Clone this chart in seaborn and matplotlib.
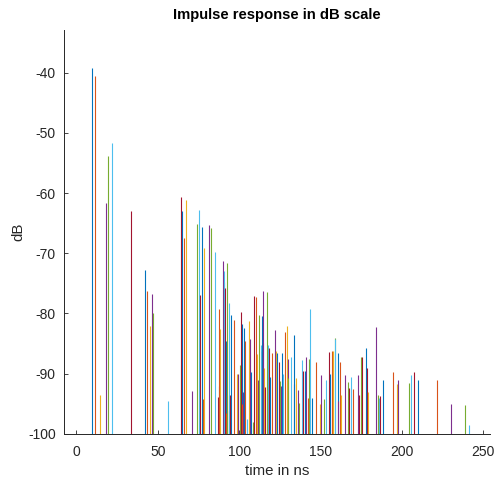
"""Impulse response (dB) as a stem-style plot, MATLAB look-alike."""

import matplotlib

matplotlib.use("Agg")
import matplotlib.pyplot as plt
import seaborn as sns

# arrival times [ns], levels [dB] and colour slot of every path
TIMES_NS = [
    9.5, 11.3, 14.4, 18.4, 19.3, 22.1, 33.8, 42.2, 43.4, 45.1,
    46.3, 47.1, 56.1, 64.3, 64.6, 66.3, 67.6, 71.3, 74.3, 75.4,
    76.2, 77.4, 78.0, 78.4, 81.3, 82.7, 85.0, 86.9, 87.3, 87.5,
    88.3, 89.9, 90.5, 90.9, 91.3, 91.8, 92.1, 92.4, 92.6, 92.8,
    93.6, 94.1, 94.8, 96.7, 98.5, 99.1, 100.6, 101.1, 101.4, 101.6,
    101.9, 102.2, 102.4, 103.0, 103.8, 104.9, 106.1, 106.7, 107.1, 108.2,
    109.3, 110.4, 111.2, 111.6, 112.4, 113.5, 113.9, 114.3, 114.6, 114.9,
    115.3, 116.1, 117.1, 117.8, 118.4, 119.0, 120.4, 121.9, 122.7, 123.1,
    124.3, 125.3, 125.9, 126.5, 126.8, 128.4, 129.2, 129.9, 130.2, 131.7,
    133.7, 133.9, 135.0, 136.0, 136.6, 138.8, 139.4, 140.7, 141.3, 142.1,
    142.9, 143.7, 145.0, 147.4, 149.9, 150.5, 152.3, 153.6, 155.2, 155.8,
    157.1, 157.5, 158.7, 159.1, 160.7, 161.0, 162.0, 162.6, 164.9, 167.1,
    167.3, 168.5, 169.8, 173.2, 173.4, 175.1, 175.7, 178.1, 178.4, 179.4,
    184.3, 185.3, 185.7, 186.7, 188.6, 194.5, 197.2, 197.6, 204.4, 205.4,
    207.2, 209.7, 221.4, 230.3, 238.9, 241.2,
]
LEVELS_DB = [
    -39.2, -40.6, -93.6, -61.6, -53.8, -51.6, -63.0, -72.7, -76.3, -82.0,
    -76.8, -80.0, -94.5, -60.6, -63.0, -67.4, -61.1, -92.8, -65.1, -62.8,
    -77.0, -65.6, -94.2, -69.2, -65.3, -65.8, -69.7, -93.8, -92.0, -79.2,
    -82.6, -71.3, -74.8, -73.0, -75.7, -84.5, -96.5, -93.5, -96.0, -71.6,
    -78.3, -93.5, -80.2, -81.1, -90.0, -90.1, -88.5, -96.5, -79.7, -81.8,
    -95.0, -97.0, -93.0, -82.4, -84.6, -97.5, -81.3, -84.2, -89.7, -98.0,
    -77.1, -77.3, -86.8, -91.1, -80.2, -85.2, -86.2, -80.5, -84.9, -76.2,
    -89.0, -92.3, -76.4, -85.2, -85.7, -90.6, -86.6, -82.8, -86.3, -86.6,
    -88.1, -91.3, -92.1, -86.6, -90.0, -83.0, -82.0, -87.6, -90.7, -87.3,
    -91.7, -83.5, -90.7, -92.7, -94.9, -87.8, -89.5, -89.5, -87.2, -94.0,
    -87.6, -79.2, -94.1, -88.0, -95.1, -90.2, -94.2, -91.1, -86.4, -90.0,
    -86.2, -86.2, -84.1, -84.3, -86.6, -94.5, -88.1, -93.5, -90.3, -91.4,
    -92.4, -90.5, -92.5, -90.2, -93.5, -87.3, -87.2, -85.8, -89.0, -93.0,
    -82.3, -93.5, -94.1, -93.7, -91.1, -89.7, -91.7, -91.0, -91.5, -90.3,
    -89.7, -91.0, -91.1, -95.1, -95.2, -98.6,
]
# one letter per path, ten paths per chunk
SLOTS = "".join([
    "boypgcrboy", "pgcrboypgc", "rboypgcrbo", "ypgcrboypg", "crboypgcrb",
    "oypbocypbg", "roypgcrbop", "yrgcrbopyb", "rgpbcoypgc", "rbypgcrbpo",
    "gcboypgcrb", "oygcbpoypg", "rcoprgrbry", "pgcrboypgc", "rbopgc",
])

MATLAB_ORDER = {
    "b": "#0072BD", "o": "#D95319", "y": "#EDB120", "p": "#7E2F8E",
    "g": "#77AC30", "c": "#4DBEEE", "r": "#A2142F",
}
BASE_DB = -100
X_TICKS = [0, 50, 100, 150, 200, 250]
Y_TICKS = [-100, -90, -80, -70, -60, -50, -40]


def main() -> None:
    sns.set_theme(style="ticks")
    plt.rcParams["font.family"] = ["Liberation Sans", "DejaVu Sans"]
    plt.rcParams["axes.unicode_minus"] = False

    n = min(len(TIMES_NS), len(LEVELS_DB))
    slots = (SLOTS + "b" * n)[:n]
    colors = [MATLAB_ORDER[s] for s in slots]

    fig = plt.figure(figsize=(4.97, 4.88), dpi=100)
    ax = fig.add_axes([0.129, 0.111, 0.857, 0.828])
    ax.vlines(TIMES_NS[:n], BASE_DB, LEVELS_DB[:n], colors=colors, linewidth=0.8)

    ax.set_xlim(-7.55, 254.1)
    ax.set_ylim(-100, -32.85)
    ax.set_xticks(X_TICKS)
    ax.set_yticks(Y_TICKS)
    ax.tick_params(axis="x", pad=8)
    ax.tick_params(axis="y", pad=6)
    ax.tick_params(direction="in", length=3, width=0.6, colors="#262626",
                   labelsize=10)
    for side in ("top", "right"):
        ax.spines[side].set_visible(False)
    for side in ("left", "bottom"):
        ax.spines[side].set_color("#262626")
        ax.spines[side].set_linewidth(0.7)

    ax.set_xlabel("time in ns", fontsize=10.8, color="#262626", labelpad=4)
    ax.set_ylabel("dB", fontsize=10.8, color="#262626", labelpad=2)
    ax.set_title("Impulse response in dB scale", fontsize=10.6, fontweight="bold",
                 color="black", pad=8)

    fig.savefig("out.png", dpi=100)
    plt.close(fig)


if __name__ == "__main__":
    main()
